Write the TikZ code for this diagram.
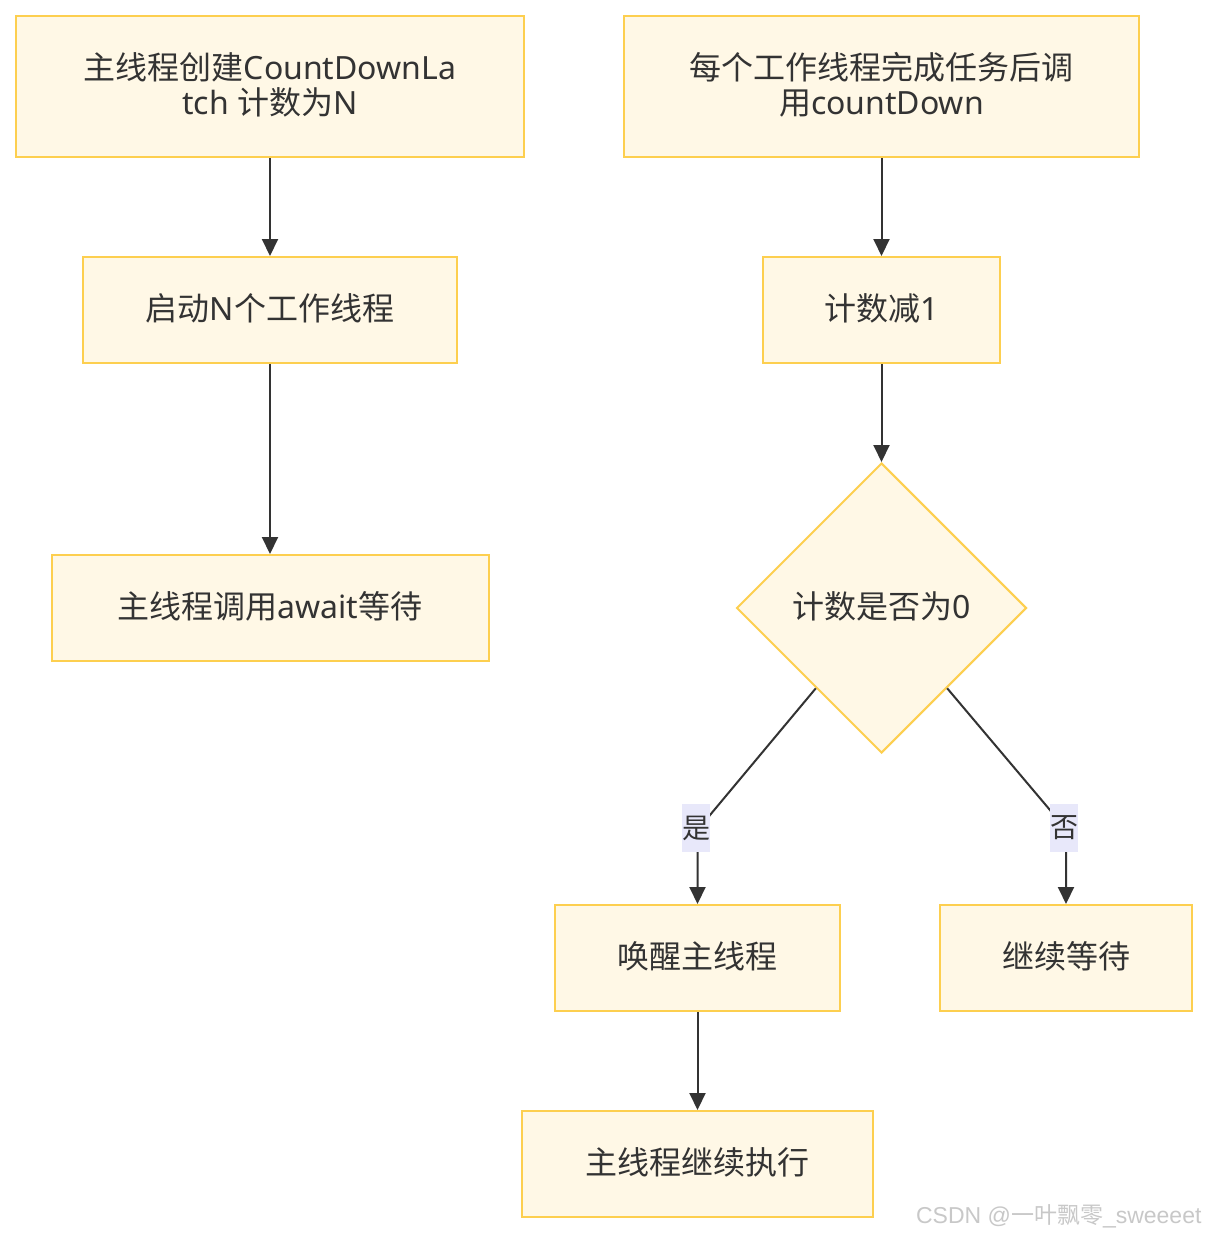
\documentclass[tikz,border=0pt]{standalone}
\usepackage{fontspec}
\setmainfont{Noto Sans}
\newfontfamily\cjk{Noto Sans CJK SC}
\newfontfamily\wmfont{Liberation Sans}
\usetikzlibrary{shapes.geometric,arrows.meta,calc}
\definecolor{boxfill}{HTML}{FFF8E6}
\definecolor{boxline}{HTML}{FDCF4F}
\definecolor{txt}{HTML}{333333}
\definecolor{lblfill}{HTML}{E8E8FA}
\definecolor{wmgray}{HTML}{C8C8C8}
\tikzset{
  procbox/.style={draw=boxline, fill=boxfill, line width=2pt, rectangle, inner sep=0pt,
    align=center, text=txt, font=\fontsize{32}{35}\selectfont,
    text height=28pt, text depth=8pt},
  twoline/.style={text height=63pt, text depth=8pt},
  decbox/.style={draw=boxline, fill=boxfill, line width=2pt, diamond, inner sep=0pt,
    minimum width=290pt, minimum height=290pt, text=txt, font=\fontsize{32}{35}\selectfont,
    text height=28pt, text depth=8pt},
  flow/.style={draw=txt, line width=2pt, -{Triangle[length=17pt,width=16pt]}},
  edgelbl/.style={fill=lblfill, inner sep=0pt, minimum width=28pt, minimum height=48pt,
    text=txt, font=\fontsize{28}{30}\selectfont\cjk}
}
\begin{document}
\begin{tikzpicture}[x=1pt,y=-1pt]
\useasboundingbox (0,0) rectangle (1208,1234);
\fill[white] (0,0) rectangle (1208,1234);

\node[procbox, twoline, minimum width=508pt, minimum height=141pt] (b1) at (270,86.5)
  {{\cjk 主线程创建}CountDownLa\\tch {\cjk 计数为}N};
\node[procbox, minimum width=374pt, minimum height=106pt] (b2) at (270,310)
  {{\cjk 启动}N{\cjk 个工作线程}};
\node[procbox, minimum width=437pt, minimum height=106pt] (b3) at (270,608)
  {{\cjk 主线程调用}await{\cjk 等待}};
\node[procbox, twoline, minimum width=515pt, minimum height=141pt] (b4) at (881.5,86.5)
  {{\cjk 每个工作线程完成任务后调}\\{\cjk 用}countDown};
\node[procbox, minimum width=237pt, minimum height=106pt] (b5) at (881.5,310)
  {{\cjk 计数减}1};
\node[decbox] (d) at (881.5,608) {{\cjk 计数是否为}0};
\node[procbox, minimum width=285pt, minimum height=106pt] (b7) at (697.5,958)
  {\cjk 唤醒主线程};
\node[procbox, minimum width=252pt, minimum height=106pt] (b8) at (1066,958)
  {\cjk 继续等待};
\node[procbox, minimum width=351pt, minimum height=106pt] (b9) at (697.5,1164)
  {\cjk 主线程继续执行};

\draw[flow] (b1.south) -- (b2.north);
\draw[flow] (b2.south) -- (b3.north);
\draw[flow] (b4.south) -- (b5.north);
\draw[flow] (b5.south) -- (d.north);

\coordinate (ys) at ($(d.west)!0.55!(d.south)$);
\coordinate (ns) at ($(d.east)!0.55!(d.south)$);
\coordinate (yk) at (697.5,830);
\coordinate (nk) at (1066,829);
\draw[flow] (ys) -- (yk) -- (b7.north);
\draw[flow] (ns) -- (nk) -- (b8.north);
\node[edgelbl] (ly) at (696,828) {是};
\node[edgelbl] (ln) at (1064,828) {否};

\draw[flow] (b7.south) -- (b9.north);

\node[anchor=base east, text=wmgray, font=\fontsize{23}{25}\selectfont] (wm) at (1205,1223)
  {\wmfont CSDN @{\cjk 一叶飘零}\_sweeeet};
\end{tikzpicture}
\end{document}
